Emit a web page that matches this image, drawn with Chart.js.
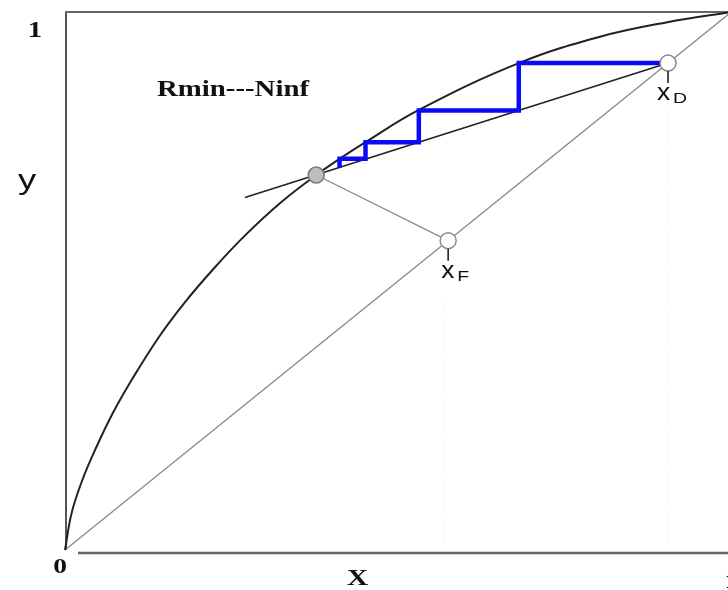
<!DOCTYPE html>
<html>
<head>
<meta charset="utf-8">
<title>McCabe-Thiele, minimum reflux</title>
<script src="https://cdn.jsdelivr.net/npm/chart.js@4.4.1/dist/chart.umd.min.js"></script>
<style>
  html, body { margin: 0; padding: 0; background: #fff; overflow: hidden; }
  canvas { display: block; }
</style>
</head>
<body>
<canvas id="mccabe" width="728" height="590"></canvas>
<script>
// equilibrium curve y(x)
var eqX = [0, 0.010, 0.026, 0.047, 0.072, 0.100, 0.141, 0.179, 0.221, 0.268, 0.323, 0.377, 0.412, 0.451, 0.531, 0.681, 0.803, 0.904, 1];
var eqY = [0, 0.069, 0.130, 0.191, 0.255, 0.316, 0.396, 0.459, 0.520, 0.582, 0.645, 0.697, 0.727, 0.758, 0.818, 0.905, 0.954, 0.981, 1];

// y = x diagonal
var diagX = [0, 1];
var diagY = [0, 1];

// compositions
var xD = 0.905;
var xF = 0.575;
var pinchX = 0.377;
var pinchY = 0.697;

// rectifying operating line at minimum reflux (xD -> pinch, extended a bit)
var opX = [0.270, xD];
var opY = [0.655, xD];

// q-line from feed point up to the pinch
var qX = [xF, pinchX];
var qY = [xF, pinchY];

// stages stepped off from the top
var stepX = [0.905, 0.681, 0.681, 0.531, 0.531, 0.451, 0.451, 0.412, 0.412];
var stepY = [0.905, 0.905, 0.817, 0.817, 0.758, 0.758, 0.727, 0.727, 0.711];

function pts(xs, ys) {
  var out = [];
  for (var i = 0; i < xs.length; i++) out.push({ x: xs[i], y: ys[i] });
  return out;
}

// text with a horizontal stretch
function stretchText(ctx, str, x, y, font, sx, align) {
  ctx.save();
  ctx.font = font;
  ctx.textAlign = align || "left";
  ctx.textBaseline = "alphabetic";
  ctx.translate(x, y);
  ctx.scale(sx, 1);
  ctx.fillText(str, 0, 0);
  ctx.restore();
}

var serif = '"Liberation Serif", "Times New Roman", serif';
var sans = '"Liberation Sans", Arial, sans-serif';

var framePlugin = {
  id: "frame",
  beforeDatasetsDraw: function (chart) {
    var ctx = chart.ctx;
    var a = chart.chartArea;
    var sx = chart.scales.x;
    ctx.save();
    // faint guides under the marked compositions
    ctx.strokeStyle = "rgba(0,0,0,0.07)";
    ctx.lineWidth = 1;
    ctx.setLineDash([2, 3]);
    ctx.beginPath();
    ctx.moveTo(sx.getPixelForValue(xF) - 5, a.bottom - 250);
    ctx.lineTo(sx.getPixelForValue(xF) - 5, a.bottom - 5);
    ctx.moveTo(sx.getPixelForValue(xD), a.top + 90);
    ctx.lineTo(sx.getPixelForValue(xD), a.bottom - 5);
    ctx.stroke();
    ctx.setLineDash([]);

    // left and top frame, bottom axis
    ctx.lineCap = "butt";
    ctx.strokeStyle = "#555";
    ctx.lineWidth = 2;
    ctx.beginPath();
    ctx.moveTo(a.left + 1, a.top - 1);
    ctx.lineTo(a.left + 1, a.bottom);
    ctx.stroke();
    ctx.strokeStyle = "#666";
    ctx.beginPath();
    ctx.moveTo(a.left, a.top);
    ctx.lineTo(chart.width, a.top);
    ctx.stroke();
    ctx.lineWidth = 2.5;
    ctx.beginPath();
    ctx.moveTo(a.left + 13, a.bottom + 3);
    ctx.lineTo(chart.width, a.bottom + 3);
    ctx.stroke();
    ctx.restore();
  },
  afterDatasetsDraw: function (chart) {
    var ctx = chart.ctx;
    var a = chart.chartArea;
    var sx = chart.scales.x;
    var sy = chart.scales.y;
    ctx.save();
    ctx.fillStyle = "#111";

    // axis ends and titles
    stretchText(ctx, "1", a.left - 30, a.top + 25, "bold 23px " + serif, 1.25, "center");
    stretchText(ctx, "0", a.left - 5, a.bottom + 23, "bold 22px " + serif, 1.25, "center");
    stretchText(ctx, "1", sx.getPixelForValue(1), a.bottom + 38, "bold 22px " + serif, 1.25, "center");
    stretchText(ctx, "X", sx.getPixelForValue(0.439), a.bottom + 35, "bold 23px " + serif, 1.3, "center");
    stretchText(ctx, "y", a.left - 38, a.top + 177, "27px " + sans, 1.35, "center");
    stretchText(ctx, "Rmin---Ninf", a.left + 92, a.top + 84, "bold 24px " + serif, 1.2, "left");

    // x_F and x_D markers
    var marks = [
      { v: xF, sub: "F", dx: -7, sdx: 9 },
      { v: xD, sub: "D", dx: -11, sdx: 5 }
    ];
    ctx.strokeStyle = "#111";
    ctx.lineWidth = 1.5;
    for (var i = 0; i < marks.length; i++) {
      var px = sx.getPixelForValue(marks[i].v);
      var py = sy.getPixelForValue(marks[i].v);
      ctx.beginPath();
      ctx.moveTo(px, py + 8);
      ctx.lineTo(px, py + 20);
      ctx.stroke();
      stretchText(ctx, "x", px + marks[i].dx, py + 37, "24px " + sans, 1.1, "left");
      stretchText(ctx, marks[i].sub, px + marks[i].sdx, py + 40, "15px " + sans, 1.3, "left");
    }
    ctx.restore();
  }
};

var ctx = document.getElementById("mccabe").getContext("2d");
var chart = new Chart(ctx, {
  type: "scatter",
  data: {
    datasets: [
      {
        label: "xD, xF",
        data: pts([xD, xF], [xD, xF]),
        pointRadius: 8,
        pointBackgroundColor: "#fff",
        pointBorderColor: "#888",
        pointBorderWidth: 1.5,
        order: 0
      },
      {
        label: "pinch",
        data: pts([pinchX], [pinchY]),
        pointRadius: 8,
        pointBackgroundColor: "#bdbdbd",
        pointBorderColor: "#777",
        pointBorderWidth: 1.5,
        order: 0
      },
      {
        label: "stages",
        data: pts(stepX, stepY),
        showLine: true,
        borderColor: "#0a0af5",
        borderWidth: 4.5,
        borderJoinStyle: "miter",
        pointRadius: 0,
        tension: 0,
        order: 1
      },
      {
        label: "equilibrium",
        data: pts(eqX, eqY),
        showLine: true,
        borderColor: "#222",
        borderWidth: 2,
        pointRadius: 0,
        tension: 0.4,
        clip: false,
        order: 2
      },
      {
        label: "operating line",
        data: pts(opX, opY),
        showLine: true,
        borderColor: "#222",
        borderWidth: 1.6,
        pointRadius: 0,
        order: 2
      },
      {
        label: "diagonal",
        data: pts(diagX, diagY),
        showLine: true,
        borderColor: "#8a8a8a",
        borderWidth: 1.3,
        pointRadius: 0,
        clip: false,
        order: 3
      },
      {
        label: "q-line",
        data: pts(qX, qY),
        showLine: true,
        borderColor: "#8a8a8a",
        borderWidth: 1.3,
        pointRadius: 0,
        order: 3
      }
    ]
  },
  options: {
    responsive: false,
    animation: false,
    devicePixelRatio: 1,
    layout: { autoPadding: false, padding: { left: 65, top: 12, right: 0, bottom: 40 } },
    scales: {
      // x runs to 1 just past the right edge
      x: { type: "linear", min: 0, max: 0.995, display: false },
      y: { type: "linear", min: 0, max: 1, display: false }
    },
    plugins: {
      legend: { display: false },
      tooltip: { enabled: false }
    }
  },
  plugins: [framePlugin]
});
</script>
</body>
</html>
